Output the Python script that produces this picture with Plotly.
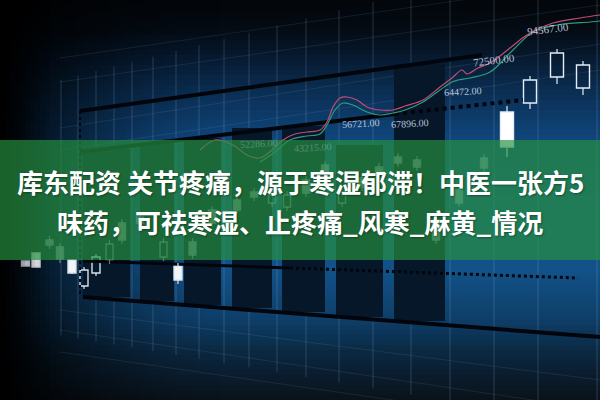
import plotly.graph_objects as go

# ---- data (chart units: x left->right, y bottom->top) ----
# moving averages
ma_red_x = [200, 215, 233, 247, 260, 272, 283, 295, 307, 320, 327, 333, 340, 347, 357, 367,
            380, 393, 405, 423, 440, 452, 462, 467, 478, 490, 510, 527, 553, 580, 600]
ma_red_y = [250, 260, 255, 245, 242, 250, 260, 266, 268, 270, 278, 293, 302, 303, 300, 293,
            290, 290, 294, 300, 313, 322, 330, 326, 332, 337, 352, 365, 377, 382, 385]
ma_green_x = [260, 275, 290, 307, 320, 327, 335, 343, 353, 367, 380, 393, 405, 423, 440, 452,
              458, 470, 490, 513, 533, 557, 590, 600]
ma_green_y = [238, 248, 260, 264, 266, 275, 290, 297, 295, 288, 285, 287, 290, 298, 310, 318,
              320, 322, 328, 350, 368, 375, 378, 379]

# candles, top right
tr_x = [507, 530, 557, 583]
tr_open = [288, 297, 323, 312]
tr_close = [253, 320, 347, 335]
tr_high = [294, 324, 351, 339]
tr_low = [243, 291, 316, 305]

# candles, lower left
ll_x = [25.5, 36, 72, 84, 96, 178]
ll_open = [139, 147, 140, 114, 127, 134]
ll_close = [134, 133, 127, 130, 143, 120]
ll_high = [139, 147, 141, 133, 146, 137]
ll_low = [134, 133, 126, 111, 124, 116]

# candles seen through the banner
mid_x = [49.5, 60, 109.5, 122, 140, 163.5, 192.5, 212, 237, 254, 272, 287, 306, 325, 342,
         362, 379, 398, 417, 436, 459, 484]
mid_open = [160, 153, 140, 177, 183, 143, 158, 190, 200, 208, 197, 193, 220, 235, 197,
            222, 233, 243, 240, 180, 210, 242]
mid_close = [155, 141, 156, 160, 177, 158, 145, 177, 190, 203, 205, 205, 207, 228, 208,
             213, 227, 237, 233, 160, 197, 232]

# dark volume columns
col_x = [106.5, 157, 202.5, 252, 303.5, 359.5, 419.5]
col_w = [47, 34, 37, 40, 43, 47, 51]
col_top = [251, 257, 262, 272, 274, 255, 336]
col_bottom = [103, 99, 95, 92, 88, 83, 79]

# price labels
label_x = [548, 494, 463, 410, 361, 313, 259]
label_y = [371, 340, 309, 277, 277, 253, 257]
label_text = ["94567.00", "72500.00", "64472.00", "67896.00", "56721.00", "43215.00", "52286.00"]

title_1 = "库东配资 关节疼痛，源于寒湿郁滞！中医一张方5"
title_2 = "味药，可祛寒湿、止疼痛_风寒_麻黄_情况"

fig = go.Figure()

# ---- background gradient ----
stops = [(0, (3, 6, 10)), (30, (4, 11, 20)), (60, (7, 27, 50)), (95, (11, 48, 86)),
         (135, (15, 68, 120)), (200, (18, 82, 138)), (270, (18, 82, 136)),
         (320, (14, 62, 104)), (355, (11, 38, 62)), (400, (10, 18, 26))]


def color_at(py):
    for (p0, c0), (p1, c1) in zip(stops, stops[1:]):
        if p0 <= py <= p1:
            t = (py - p0) / (p1 - p0)
            return "rgb(%d,%d,%d)" % tuple(round(a + (b - a) * t) for a, b in zip(c0, c1))
    return "rgb(10,18,26)"


shapes = []
step = 5
for py in range(0, 400, step):
    shapes.append(dict(type="rect", xref="x", yref="y", x0=0, x1=600,
                       y0=400 - py - step, y1=400 - py, layer="below",
                       fillcolor=color_at(py + step / 2), line_width=0))
# wide darkening towards the left edge (background only)
for i in range(44):
    shapes.append(dict(type="rect", xref="x", yref="y", x0=i * 5, x1=i * 5 + 5, y0=0, y1=400,
                       layer="below", fillcolor="black", opacity=(1 - i / 44) ** 1.6 * 0.95,
                       line_width=0))

# vertical grid
grid_x = [61, 78, 96, 114, 132, 153, 176, 199, 224, 249, 277, 306, 339, 373, 411, 450, 494, 538, 597]
for gx in grid_x:
    shapes.append(dict(type="line", xref="x", yref="y", x0=gx, x1=gx,
                       y0=400 - min(400, 325 + 0.17 * gx), y1=400 - max(0, 95 - 0.25 * gx),
                       layer="below", line=dict(color="rgba(170,205,245,0.2)", width=1)))
# faint perspective lines
for y0, y1 in [(342, 420), (318, 395), (272, 356), (250, 330)]:
    shapes.append(dict(type="line", xref="x", yref="y", x0=60, x1=600, y0=y0, y1=y1,
                       layer="below", line=dict(color="rgba(170,205,245,0.1)", width=1)))
for y0, y1 in [(90, 20), (70, -10), (48, -30)]:
    shapes.append(dict(type="line", xref="x", yref="y", x0=60, x1=600, y0=y0, y1=y1,
                       layer="below", line=dict(color="rgba(170,205,245,0.1)", width=1)))

# ---- volume columns ----
fig.add_trace(go.Bar(x=col_x, y=[t - b for t, b in zip(col_top, col_bottom)], base=col_bottom,
                     width=col_w, marker=dict(color="#06172a", line_width=0), hoverinfo="skip"))

# ---- frame lines ----
dark = "#02060c"
fig.add_trace(go.Scatter(x=[80, 482], y=[289, 345], mode="lines", line=dict(color=dark, width=4)))
fig.add_trace(go.Scatter(x=[80, 395], y=[248, 286], mode="lines", line=dict(color=dark, width=4)))
fig.add_trace(go.Scatter(x=[395, 523], y=[286, 300], mode="lines",
                         line=dict(color=dark, width=4, dash="dot")))
fig.add_trace(go.Scatter(x=[80, 80], y=[289, 103], mode="lines",
                         line=dict(color=dark, width=2, dash="dot")))
fig.add_trace(go.Scatter(x=[83, 600], y=[103, 63], mode="lines", line=dict(color=dark, width=4)))
fig.add_trace(go.Scatter(x=[83, 290], y=[139, 132], mode="lines", line=dict(color=dark, width=3)))
fig.add_trace(go.Scatter(x=[290, 578], y=[132, 122], mode="lines",
                         line=dict(color=dark, width=3, dash="dot")))

# ---- moving averages ----
fig.add_trace(go.Scatter(x=ma_green_x, y=ma_green_y, mode="lines",
                         line=dict(color="#2f9c7e", width=1.2, shape="spline")))
fig.add_trace(go.Scatter(x=ma_red_x, y=ma_red_y, mode="lines",
                         line=dict(color="#c44c70", width=1.2, shape="spline")))


# ---- candles ----
def add_candles(xs, op, cl, hi, lo, width, opacity):
    fig.add_trace(go.Bar(
        x=xs, y=[abs(c - o) for o, c in zip(op, cl)], base=[min(o, c) for o, c in zip(op, cl)],
        width=width, opacity=opacity, hoverinfo="skip",
        marker=dict(color=["#ffffff" if c < o else "rgba(0,0,0,0)" for o, c in zip(op, cl)],
                    line=dict(color="#e4eef9", width=1.4))))
    wx, wy = [], []
    for x, o, c, h, l in zip(xs, op, cl, hi, lo):
        wx += [x, x, None, x, x, None]
        wy += [h, max(o, c), None, min(o, c), l, None]
    fig.add_trace(go.Scatter(x=wx, y=wy, mode="lines", opacity=opacity,
                             line=dict(color="#e4eef9", width=1.2)))


add_candles(mid_x, mid_open, mid_close,
            [max(o, c) + 4 for o, c in zip(mid_open, mid_close)],
            [min(o, c) - 4 for o, c in zip(mid_open, mid_close)], 7, 0.45)
add_candles(ll_x, ll_open, ll_close, ll_high, ll_low, 8, 0.95)
add_candles(tr_x, tr_open, tr_close, tr_high, tr_low, 13, 1)

# ---- overlays: narrow left fade and banner ----
for i in range(10):
    shapes.append(dict(type="rect", xref="x", yref="y", x0=i * 5, x1=i * 5 + 5, y0=0, y1=400,
                       layer="above", fillcolor="black", opacity=(1 - i / 10) ** 1.5 * 0.7,
                       line_width=0))
shapes.append(dict(type="rect", xref="paper", yref="y", x0=0, x1=1, y0=140, y1=260,
                   layer="above", fillcolor="rgba(38,145,64,0.68)", line_width=0))

annotations = []
for lx, ly, lt in zip(label_x, label_y, label_text):
    inside = 140 < ly < 260
    annotations.append(dict(x=lx, y=ly, text=lt, showarrow=False, xref="x", yref="y",
                            textangle=-7 if ly > 330 else -3, opacity=0.3 if inside else 0.85,
                            font=dict(family="Liberation Serif", size=11 if ly > 330 else 10,
                                      color="#d4dfea")))
for txt, yy in [(title_1, 219), (title_2, 179)]:
    annotations.append(dict(x=0.5, y=yy, xref="paper", yref="y", text=txt, showarrow=False,
                            xanchor="center", yanchor="middle",
                            font=dict(family="Noto Sans CJK SC", size=26, weight=700,
                                      color="white", shadow="1px 1px 2px rgba(0,0,0,0.35)")))

fig.update_layout(
    width=600, height=400, margin=dict(l=0, r=0, t=0, b=0),
    paper_bgcolor="black", plot_bgcolor="black", showlegend=False, barmode="overlay",
    xaxis=dict(range=[0, 600], visible=False, fixedrange=True),
    yaxis=dict(range=[0, 400], visible=False, fixedrange=True),
    shapes=shapes, annotations=annotations,
)
fig.write_html("out.html", config={"displayModeBar": False},
               post_script="document.body.style.margin='0';")
